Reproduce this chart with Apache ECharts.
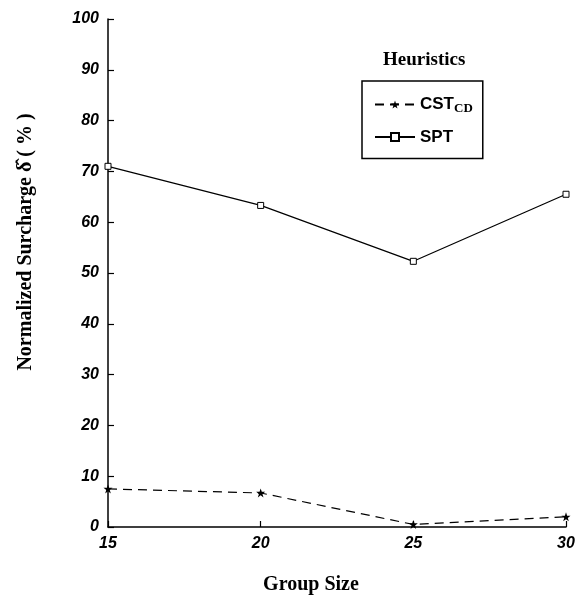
<!DOCTYPE html>
<html><head><meta charset="utf-8">
<script src="https://cdn.jsdelivr.net/npm/echarts@6/dist/echarts.min.js"></script>
<style>html,body{margin:0;padding:0;background:#fff}#c{width:580px;height:595px}</style>
</head><body><div id="c"></div>
<script>
const groupSizes = [15, 20, 25, 30];
const cstValues = [7.5, 6.7, 0.5, 2.0];
const sptValues = [71.0, 63.3, 52.3, 65.5];
const yTicks = [0, 10, 20, 30, 40, 50, 60, 70, 80, 90, 100];

const chart = echarts.init(document.getElementById('c'));
const tickFont = {fontFamily: 'Liberation Sans', fontWeight: 'bold', fontStyle: 'italic', fontSize: 16, color: '#000'};
const star = 'path://M0,-5L1.2,-1.6L4.8,-1.6L1.9,0.6L3,4L0,1.9L-3,4L-1.9,0.6L-4.8,-1.6L-1.2,-1.6Z';
chart.setOption({
  animation: false,
  backgroundColor: '#fff',
  title: {
    text: 'Heuristics', left: 378, top: 46,
    textStyle: {fontFamily: 'Liberation Serif', fontWeight: 'bold', fontSize: 19, color: '#000'}
  },
  legend: {
    left: 362, top: 81, width: 100, orient: 'vertical',
    borderColor: '#000', borderWidth: 1.5, padding: [15, 10, 13, 12],
    itemGap: 13, itemWidth: 40, itemHeight: 10,
    data: ['CST', 'SPT'],
    formatter: function (n) { return n === 'CST' ? 'CST{sub|CD}' : 'SPT'; },
    textStyle: {
      fontFamily: 'Liberation Sans', fontWeight: 'bold', fontSize: 17, color: '#000',
      rich: {sub: {fontFamily: 'Liberation Serif', fontWeight: 'bold', fontSize: 13, verticalAlign: 'bottom', padding: [9, 0, 0, 0], color: '#000'}}
    }
  },
  grid: {left: 108, right: 14, top: 19, bottom: 68, outerBoundsMode: 'none', containLabel: false},
  xAxis: {
    type: 'value', min: 15, max: 30, interval: 5,
    name: 'Group Size', nameLocation: 'middle', nameGap: 48,
    nameTextStyle: {fontFamily: 'Liberation Serif', fontWeight: 'bold', fontSize: 20, color: '#000', padding: [0, 52, 0, 0]},
    axisLine: {lineStyle: {color: '#000', width: 1.5}},
    axisTick: {inside: true, length: 6, lineStyle: {color: '#000', width: 1.2}},
    axisLabel: Object.assign({margin: 9, formatter: function (v) { return groupSizes.indexOf(v) >= 0 ? String(v) : ''; }}, tickFont),
    splitLine: {show: false}
  },
  yAxis: {
    type: 'value', min: 0, max: 100, interval: 10,
    name: 'Normalized Surcharge \u03B4\u0302 ( % )', nameLocation: 'middle', nameGap: 72,
    nameTextStyle: {fontFamily: 'Liberation Serif', fontWeight: 'bold', fontSize: 20, color: '#000', padding: [0, 0, 0, 62]},
    axisLine: {lineStyle: {color: '#000', width: 1.5}},
    axisTick: {inside: true, length: 6, lineStyle: {color: '#000', width: 1.2}},
    axisLabel: Object.assign({margin: 9, formatter: function (v) { return yTicks.indexOf(v) >= 0 ? String(v) : ''; }}, tickFont),
    splitLine: {show: false}
  },
  series: [
    {
      name: 'CST', type: 'line',
      data: groupSizes.map((x, i) => [x, cstValues[i]]),
      symbol: star, symbolSize: 9,
      itemStyle: {color: '#000'},
      lineStyle: {color: '#000', width: 1.2, type: [9, 6]}
    },
    {
      name: 'SPT', type: 'line',
      data: groupSizes.map((x, i) => [x, sptValues[i]]),
      symbol: 'rect', symbolSize: 6,
      itemStyle: {color: '#fff', borderColor: '#000', borderWidth: 1},
      lineStyle: {color: '#000', width: 1.2}
    }
  ]
});
</script></body></html>
